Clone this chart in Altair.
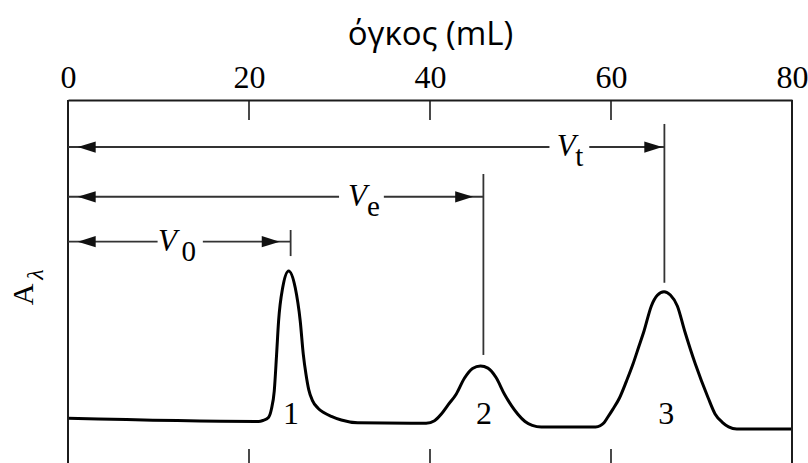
import altair as alt
import pandas as pd

# Elution profile: eluted volume (mL) against absorbance (arbitrary units)
volume = [0.0, 21.06, 21.54, 22.15, 22.48, 22.79, 23.05, 23.27, 23.72, 24.38,
          25.11, 25.66, 26.0, 26.3, 26.6, 27.0, 27.6, 28.3, 29.1, 30.2,
          32.0, 39.57, 40.5, 41.23, 42.0, 42.89, 43.8, 44.7, 45.58, 46.4,
          47.3, 48.23, 49.0, 49.71, 50.5, 51.3, 52.3, 58.3, 58.8, 59.2, 59.6,
          60.2, 60.95, 61.7, 62.43, 63.05, 63.65, 64.46, 65.12, 65.86, 66.56,
          67.33, 68.14, 69.32, 70.73, 71.5, 72.3, 73.0, 73.9, 80.0]
absorbance = [0.001, -0.02, -0.013, 0.007, 0.063, 0.181, 0.423, 0.643, 0.862, 0.973,
              0.862, 0.643, 0.423, 0.29, 0.19, 0.12, 0.07, 0.038, 0.014, -0.01,
              -0.028, -0.032, -0.015, 0.028, 0.09, 0.16, 0.265, 0.33, 0.346, 0.332,
              0.27, 0.16, 0.085, 0.028, -0.02, -0.045, -0.056, -0.056, -0.048, -0.03, 0.005,
              0.06, 0.137, 0.245, 0.359, 0.47, 0.577, 0.742, 0.812, 0.836, 0.814,
              0.742, 0.577, 0.359, 0.137, 0.03, -0.025, -0.055, -0.069, -0.069]

# Peak numbers
peak_names = ["1", "2", "3"]
peak_label_vol = [24.63, 45.98, 66.1]
peak_label_abs = [-0.036, -0.036, -0.036]

# Volume markers V0, Ve, Vt
marker_sub = ["0", "e", "t"]
marker_vol = [24.6, 45.9, 65.9]
marker_top = [1.243, 1.612, 1.942]
marker_bottom = [1.071, 0.419, 0.895]
arrow_level = [1.166, 1.462, 1.79]
arrow_tip = [23.4, 44.77, 65.67]
left_tip = [1.07, 1.07, 1.07]
gap_start = [9.9, 29.95, 53.2]
gap_end = [14.9, 34.9, 57.6]
v_letter_vol = [11.0, 31.98, 55.05]
sub_letter_vol = [13.35, 33.76, 56.5]
head_length = 1.99      # mL
head_half_height = 0.037  # absorbance units

# Axis
tick_labels = [0, 20, 40, 60, 80]
inner_ticks = [20, 40, 60]
x_min, x_max = 0, 80
a_min, a_max = -0.2934, 2.1
top_tick_end = 1.968
bottom_tick_end = -0.201

SERIF = "Liberation Serif, serif"
frame_color = "#1c1c1c"
ann_color = "#333333"

x_scale = alt.Scale(domain=[x_min, x_max], nice=False, zero=False)
y_scale = alt.Scale(domain=[a_min, a_max], nice=False, zero=False)

x_axis = alt.Axis(
    orient="top", values=tick_labels, ticks=False, grid=False,
    domain=True, domainColor=frame_color, domainWidth=2,
    labelFont=SERIF, labelFontSize=32,
    labelPadding=6, labelFlush=False, labelOverlap=False,
    title="όγκος (mL)", titleFont="Open Sans", titleFontSize=33,
    titleFontWeight="normal",
    titleY=-56, titleBaseline="alphabetic",
)

curve_df = pd.DataFrame({"vol": volume, "abs": absorbance})
markers_df = pd.DataFrame({
    "sub": marker_sub, "vol": marker_vol, "top": marker_top,
    "bottom": marker_bottom, "level": arrow_level,
    "gs": gap_start, "ge": gap_end,
    "vx": v_letter_vol, "sx": sub_letter_vol,
})
markers_df["zero"] = x_min
markers_df["V"] = "V"

# Filled arrowheads as thin triangles (base edge to tip)
head_rows = []
for i, (tip, ltip, lev) in enumerate(zip(arrow_tip, left_tip, arrow_level)):
    head_rows += [
        {"head": f"r{i}", "hx": tip - head_length, "lo": lev - head_half_height, "hi": lev + head_half_height},
        {"head": f"r{i}", "hx": tip, "lo": lev, "hi": lev},
        {"head": f"l{i}", "hx": ltip, "lo": lev, "hi": lev},
        {"head": f"l{i}", "hx": ltip + head_length, "lo": lev - head_half_height, "hi": lev + head_half_height},
    ]
heads_df = pd.DataFrame(head_rows)

peaks_df = pd.DataFrame({"name": peak_names, "vol": peak_label_vol, "abs": peak_label_abs})
sides_df = pd.DataFrame({"vol": [x_min, x_max]})
ticks_df = pd.DataFrame({"vol": inner_ticks})
ticks_df["top0"], ticks_df["top1"] = a_max, top_tick_end
ticks_df["bot0"], ticks_df["bot1"] = a_min, bottom_tick_end


def X(field):
    return alt.X(field, type="quantitative", scale=x_scale, axis=x_axis)


def Y(field):
    return alt.Y(field, type="quantitative", scale=y_scale, axis=None)


curve = alt.Chart(curve_df).mark_line(
    color="black", strokeWidth=3, interpolate="monotone"
).encode(x=X("vol"), y=Y("abs"))

sides = alt.Chart(sides_df).mark_rule(color=frame_color, strokeWidth=2).encode(x=X("vol"))

top_ticks = alt.Chart(ticks_df).mark_rule(color=frame_color, strokeWidth=1.6).encode(
    x=X("vol"), y=Y("top0"), y2="top1")
bottom_ticks = alt.Chart(ticks_df).mark_rule(color=frame_color, strokeWidth=1.6).encode(
    x=X("vol"), y=Y("bot0"), y2="bot1")

marker_lines = alt.Chart(markers_df).mark_rule(color=ann_color, strokeWidth=1.8).encode(
    x=X("vol"), y=Y("top"), y2="bottom")
arrow_left = alt.Chart(markers_df).mark_rule(color=ann_color, strokeWidth=1.8).encode(
    x=X("zero"), x2="gs", y=Y("level"))
arrow_right = alt.Chart(markers_df).mark_rule(color=ann_color, strokeWidth=1.8).encode(
    x=X("ge"), x2="vol", y=Y("level"))

heads = alt.Chart(heads_df).mark_area(color="#111111", opacity=1).encode(
    x=X("hx"), y=Y("lo"), y2="hi", detail="head:N")

v_letters = alt.Chart(markers_df).mark_text(
    font=SERIF, fontStyle="italic", fontSize=31,
    align="center", baseline="alphabetic", dy=9
).encode(x=X("vx"), y=Y("level"), text="V:N")
v_subs = alt.Chart(markers_df).mark_text(
    font=SERIF, fontSize=29,
    align="center", baseline="alphabetic", dy=19
).encode(x=X("sx"), y=Y("level"), text="sub:N")

peak_labels = alt.Chart(peaks_df).mark_text(
    font=SERIF, fontSize=32,
    align="center", baseline="alphabetic"
).encode(x=X("vol"), y=Y("abs"), text="name:N")

# Absorbance axis title: A with subscript lambda, rotated
ylab_df = pd.DataFrame({"t": ["A", "λ"], "a": [0.818, 0.949]})
ylab_A = alt.Chart(ylab_df.iloc[[0]]).mark_text(
    font=SERIF, fontSize=30, angle=270,
    align="center", baseline="middle"
).encode(x=alt.value(-43.8), y=Y("a"), text="t:N")
ylab_l = alt.Chart(ylab_df.iloc[[1]]).mark_text(
    font=SERIF, fontSize=24, fontStyle="italic", angle=270,
    align="center", baseline="middle"
).encode(x=alt.value(-32.3), y=Y("a"), text="t:N")

# White corner spacer fixing the plot's offset from the page's top-left corner
spacer = alt.Chart(sides_df.iloc[[0]]).mark_rule(color="white", strokeWidth=1).encode(
    x=alt.value(-67), x2=alt.value(-66), y=alt.value(-99), y2=alt.value(-98))

chart = alt.layer(
    spacer, curve, sides, top_ticks, bottom_ticks, marker_lines, arrow_left, arrow_right,
    heads, v_letters, v_subs, peak_labels, ylab_A, ylab_l
).properties(
    width=724, height=363, padding=0,
    view=alt.ViewBackground(stroke=None),
)

chart.save("out.html", embed_options={"renderer": "svg", "actions": False})
